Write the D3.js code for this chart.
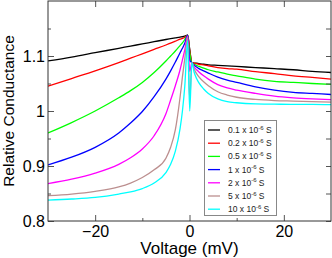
<!doctype html>
<html lang="en">
<head>
<meta charset="utf-8">
<title>Relative conductance vs voltage</title>
<script src="https://d3js.org/d3.v7.min.js"></script>
<style>
  body { margin: 0; background: #fff; }
  svg { display: block; font-family: "Liberation Sans", Arial, sans-serif; }
</style>
</head>
<body>
<div id="chart"></div>
<script>
    const width = 332;
    const height = 258;
    const margin = {top: 1, right: 1, bottom: 37, left: 48};

    // voltage samples (mV)
    const voltsLeft = [-30, -25, -20, -15, -12.5, -10, -7.5, -5, -4, -3, -2, -1.5, -1, -0.4];
    const voltDip = 0.05;
    const voltsRight = [0.5, 1, 1.5, 2, 3, 4, 6, 8, 10, 14, 18, 22, 26, 30];

    const legendLabels = ["0.1", "0.2", "0.5", "1", "2", "5", "10"];
    const colors = ["#000000", "#ff0000", "#00ff00", "#0000ff", "#ff00ff", "#bc8f8f", "#00ffff"];

    // relative conductance, one array per series
    const leftBlack   = [1.091, 1.098, 1.106, 1.114, 1.118, 1.122, 1.126, 1.130, 1.1315, 1.133, 1.1345, 1.135, 1.136, 1.138];
    const leftRed     = [1.045, 1.059, 1.073, 1.088, 1.096, 1.104, 1.112, 1.120, 1.1235, 1.127, 1.1305, 1.132, 1.134, 1.138];
    const leftGreen   = [0.960, 0.979, 1.000, 1.024, 1.037, 1.052, 1.070, 1.091, 1.100, 1.109, 1.119, 1.124, 1.130, 1.138];
    const leftBlue    = [0.902, 0.916, 0.934, 0.960, 0.978, 0.999, 1.026, 1.058, 1.073, 1.089, 1.106, 1.114, 1.123, 1.138];
    const leftMagenta = [0.868, 0.876, 0.887, 0.903, 0.915, 0.931, 0.955, 0.995, 1.020, 1.046, 1.075, 1.093, 1.111, 1.136];
    const leftBrown   = [0.846, 0.849, 0.854, 0.862, 0.869, 0.879, 0.893, 0.914, 0.934, 0.966, 1.025, 1.062, 1.095, 1.134];
    const leftCyan    = [0.838, 0.840, 0.843, 0.849, 0.853, 0.859, 0.869, 0.888, 0.903, 0.927, 0.968, 1.000, 1.045, 1.128];

    const dipValues = [1.112, 1.110, 1.105, 1.092, 1.072, 1.020, 1.000];

    const rightBlack   = [1.088, 1.087, 1.087, 1.086, 1.085, 1.084, 1.083, 1.082, 1.081, 1.079, 1.077, 1.075, 1.072, 1.070];
    const rightRed     = [1.088, 1.087, 1.086, 1.085, 1.084, 1.082, 1.079, 1.077, 1.076, 1.0715, 1.068, 1.064, 1.061, 1.058];
    const rightGreen   = [1.088, 1.085, 1.083, 1.081, 1.078, 1.075, 1.071, 1.067, 1.064, 1.058, 1.054, 1.052, 1.050, 1.0485];
    const rightBlue    = [1.088, 1.083, 1.080, 1.077, 1.073, 1.069, 1.0615, 1.056, 1.052, 1.044, 1.038, 1.034, 1.032, 1.030];
    const rightMagenta = [1.088, 1.080, 1.075, 1.071, 1.064, 1.058, 1.048, 1.042, 1.038, 1.032, 1.027, 1.024, 1.022, 1.0205];
    const rightBrown   = [1.088, 1.076, 1.068, 1.062, 1.053, 1.046, 1.035, 1.029, 1.025, 1.021, 1.019, 1.018, 1.017, 1.016];
    const rightCyan    = [1.088, 1.070, 1.059, 1.051, 1.040, 1.032, 1.022, 1.017, 1.015, 1.013, 1.0125, 1.012, 1.012, 1.0115];

    const leftSeries = [leftBlack, leftRed, leftGreen, leftBlue, leftMagenta, leftBrown, leftCyan];
    const rightSeries = [rightBlack, rightRed, rightGreen, rightBlue, rightMagenta, rightBrown, rightCyan];

    const xMajor = [-20, 0, 20];
    const xMinor = [-10, 10];
    const yMajor = [0.8, 0.9, 1.0, 1.1];
    const yMinor = [0.85, 0.95, 1.05, 1.15];

    const svg = d3.select("#chart").append("svg")
        .attr("width", width)
        .attr("height", height);

    const x = d3.scaleLinear().domain([-30, 30]).range([margin.left, width - margin.right]);
    const y = d3.scaleLinear().domain([0.8, 1.2]).range([height - margin.bottom, margin.top]);

    const plotBottom = height - margin.bottom;
    const plotTop = margin.top;
    const plotLeft = margin.left;
    const plotRight = width - margin.right;

    // build point lists per series
    const series = leftSeries.map(function (left, i) {
        const pts = voltsLeft.map((v, j) => [v, left[j]]);
        pts.push([voltDip, dipValues[i]]);
        voltsRight.forEach((v, j) => pts.push([v, rightSeries[i][j]]));
        return pts;
    });

    const line = d3.line()
        .x(d => x(d[0]))
        .y(d => y(d[1]))
        .curve(d3.curveMonotoneX);

    svg.append("defs").append("clipPath").attr("id", "clip")
        .append("rect")
        .attr("x", plotLeft).attr("y", plotTop)
        .attr("width", plotRight - plotLeft)
        .attr("height", plotBottom - plotTop);

    svg.append("g")
        .attr("clip-path", "url(#clip)")
        .selectAll("path")
        .data(series)
        .enter()
        .append("path")
        .attr("d", line)
        .attr("fill", "none")
        .attr("stroke", (d, i) => colors[i])
        .attr("stroke-width", 1.3);

    // axes: ticks point inward on all four sides
    svg.append("g")
        .attr("transform", "translate(0," + plotBottom + ")")
        .call(d3.axisBottom(x).tickValues(xMajor).tickSizeInner(-6).tickSizeOuter(0).tickPadding(5)
            .tickFormat(d3.format("d")))
        .call(g => g.select(".domain").remove());
    svg.append("g")
        .attr("transform", "translate(0," + plotBottom + ")")
        .call(d3.axisBottom(x).tickValues(xMinor).tickSize(-3).tickFormat(""))
        .call(g => g.select(".domain").remove());
    svg.append("g")
        .attr("transform", "translate(0," + plotTop + ")")
        .call(d3.axisTop(x).tickValues(xMajor.concat(xMinor)).tickSize(-6).tickFormat(""))
        .call(g => g.select(".domain").remove());

    svg.append("g")
        .attr("transform", "translate(" + plotLeft + ",0)")
        .call(d3.axisLeft(y).tickValues(yMajor).tickSizeInner(-6).tickSizeOuter(0).tickPadding(3)
            .tickFormat(d3.format("~g")))
        .call(g => g.select(".domain").remove());
    svg.append("g")
        .attr("transform", "translate(" + plotLeft + ",0)")
        .call(d3.axisLeft(y).tickValues(yMinor).tickSize(-3).tickFormat(""))
        .call(g => g.select(".domain").remove());
    svg.append("g")
        .attr("transform", "translate(" + plotRight + ",0)")
        .call(d3.axisRight(y).tickValues(yMajor.concat(yMinor)).tickSize(-5).tickFormat(""))
        .call(g => g.select(".domain").remove());

    svg.selectAll(".tick line").attr("stroke", "#555");
    svg.selectAll(".tick text")
        .attr("fill", "#000")
        .style("font-size", "16px")
        .style("font-family", "'Liberation Sans', Arial, sans-serif");

    svg.append("rect")
        .attr("x", plotLeft).attr("y", plotTop)
        .attr("width", plotRight - plotLeft).attr("height", plotBottom - plotTop)
        .attr("fill", "none")
        .attr("stroke", "#333")
        .attr("stroke-width", 1);

    // axis titles
    svg.append("text")
        .attr("x", (plotLeft + plotRight) / 2)
        .attr("y", 254)
        .attr("text-anchor", "middle")
        .style("font-size", "17px")
        .text("Voltage (mV)");

    svg.append("text")
        .attr("transform", "translate(14," + ((plotTop + plotBottom) / 2) + ") rotate(-90)")
        .attr("text-anchor", "middle")
        .style("font-size", "15.5px")
        .text("Relative Conductance");

    // legend
    const legend = svg.append("g").attr("transform", "translate(204,120)");
    legend.append("rect")
        .attr("x", 0.5).attr("y", 0.5)
        .attr("width", 72).attr("height", 95)
        .attr("fill", "#fff")
        .attr("stroke", "#888");

    const item = legend.selectAll("g.item")
        .data(legendLabels)
        .enter()
        .append("g")
        .attr("class", "item")
        .attr("transform", (d, i) => "translate(0," + (10 + i * 13.2) + ")");

    item.append("line")
        .attr("x1", 4).attr("x2", 16)
        .attr("stroke", (d, i) => colors[i])
        .attr("stroke-width", 1.3);

    const label = item.append("text")
        .attr("x", 24)
        .attr("y", 3)
        .attr("fill", "#222")
        .style("font-size", "8.5px");
    label.append("tspan").text(d => d + " x 10");
    label.append("tspan").attr("dy", -3.5).style("font-size", "6px").text("-6");
    label.append("tspan").attr("dy", 3.5).text(" S");
</script>
</body>
</html>
